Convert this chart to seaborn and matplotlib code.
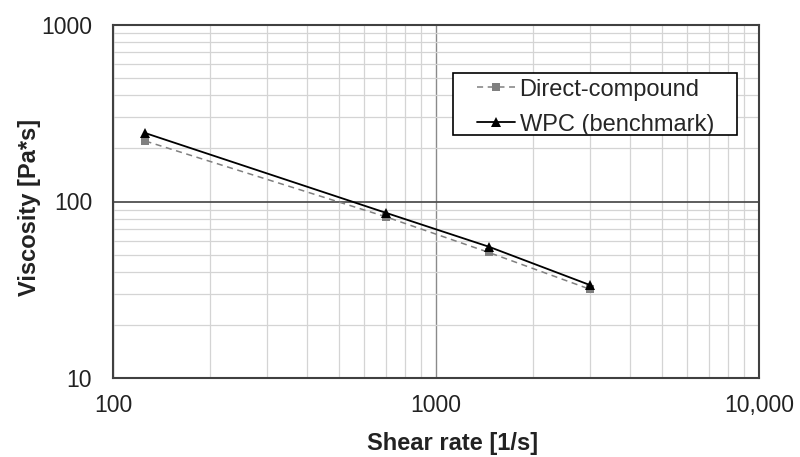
import matplotlib
matplotlib.use("Agg")
import matplotlib.pyplot as plt
import seaborn as sns
import pandas as pd
from matplotlib.patches import Rectangle
from matplotlib.ticker import FixedLocator, FixedFormatter, LogLocator, NullFormatter

shear_rate = [126, 698, 1455, 3000]
direct_compound = [220, 82, 51.5, 31.8]
wpc_benchmark = [244, 86.4, 55.5, 33.6]

x_ticks = [100, 1000, 10000]
x_tick_labels = ["100", "1000", "10,000"]
y_ticks = [10, 100, 1000]
y_tick_labels = ["10", "100", "1000"]

sns.set_theme(style="white")
plt.rcParams['font.family'] = ['Liberation Sans', 'DejaVu Sans']

df_dc = pd.DataFrame({"x": shear_rate, "y": direct_compound})
df_wpc = pd.DataFrame({"x": shear_rate, "y": wpc_benchmark})

W, H = 800, 457
fig = plt.figure(figsize=(8, 4.57), dpi=100)
ax = fig.add_axes([113/W, 1-378/H, (759-113)/W, (378-25)/H])

sns.lineplot(data=df_dc, x="x", y="y", ax=ax, color="#808080", linestyle=(0, (4, 3)),
             linewidth=1.1, marker="s", markersize=6, markeredgewidth=0,
             markerfacecolor="#808080", label="Direct-compound", zorder=3)
sns.lineplot(data=df_wpc, x="x", y="y", ax=ax, color="black", linestyle="-",
             linewidth=1.3, marker="^", markersize=7, markeredgewidth=0,
             markerfacecolor="black", label="WPC (benchmark)", zorder=4)

ax.set_xscale("log")
ax.set_yscale("log")
ax.set_xlim(100, 10000)
ax.set_ylim(10, 1000)

ax.xaxis.set_major_locator(FixedLocator(x_ticks))
ax.xaxis.set_major_formatter(FixedFormatter(x_tick_labels))
ax.yaxis.set_major_locator(FixedLocator(y_ticks))
ax.yaxis.set_major_formatter(FixedFormatter(y_tick_labels))
ax.xaxis.set_minor_locator(LogLocator(base=10, subs=range(2, 10)))
ax.yaxis.set_minor_locator(LogLocator(base=10, subs=range(2, 10)))
ax.xaxis.set_minor_formatter(NullFormatter())
ax.yaxis.set_minor_formatter(NullFormatter())

ax.grid(which="minor", axis="both", color="#d4d4d4", linewidth=0.9)
ax.grid(which="major", axis="x", color="#8a8a8a", linewidth=1.0)
ax.grid(which="major", axis="y", color="#505050", linewidth=1.3)
ax.set_axisbelow(True)

ax.tick_params(which="both", length=0, labelsize=16.5, colors="#222222")
ax.tick_params(axis="y", pad=15)
ax.tick_params(axis="x", pad=11.5)
for s in ax.spines.values():
    s.set_color("#404040")
    s.set_linewidth(1.5)

ax.set_xlabel("Shear rate [1/s]", fontsize=17, fontweight="bold", color="#222222")
ax.set_ylabel("Viscosity [Pa*s]", fontsize=17, fontweight="bold", color="#222222")
ax.xaxis.set_label_coords(0.525, -0.152)
ax.yaxis.set_label_coords(-0.112, 0.484)

leg = ax.legend(loc="upper left", bbox_to_anchor=(0.5635, 0.848), fontsize=17,
                frameon=False, handlelength=1.6, handletextpad=0.2, borderpad=0.0,
                labelspacing=0.55, borderaxespad=0)

fig.canvas.draw()
bb = leg.get_window_extent(fig.canvas.get_renderer())
x0 = bb.x0 - 24
x1 = bb.x1 + 23
y0 = bb.y0 + 1
y1 = bb.y1 + 6
rect = Rectangle((x0 / W, y0 / H), (x1 - x0) / W, (y1 - y0) / H, transform=fig.transFigure,
                 facecolor="white", edgecolor="black", linewidth=1.2, zorder=5)
ax.add_artist(rect)
rect.set_clip_on(False)
leg.set_zorder(6)

fig.savefig("out.png", dpi=100)
